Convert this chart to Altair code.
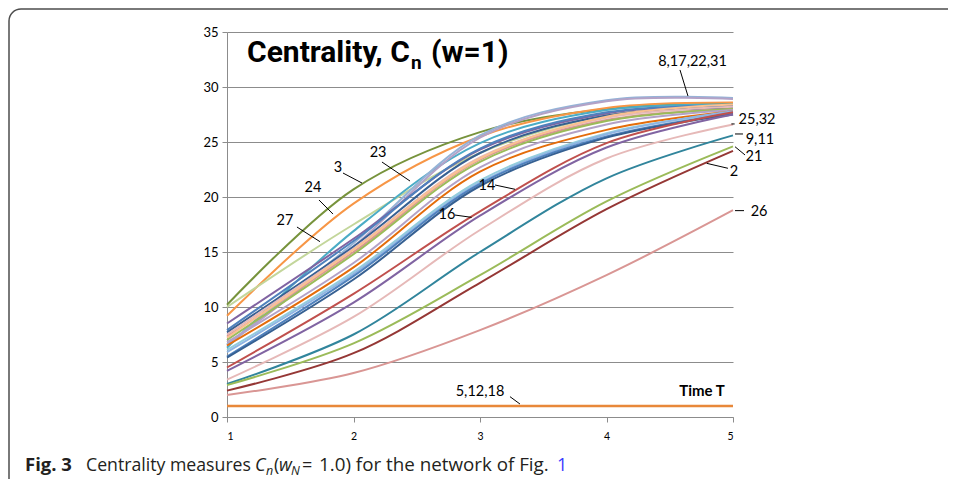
import altair as alt
import pandas as pd

# ---------------- data ----------------
T = [1, 2, 3, 4, 5]
y_ticks = [0, 5, 10, 15, 20, 25, 30, 35]

series_keys = [
    "s01", "s02", "s03", "s04", "s05", "s06", "s07", "s08", "s09", "s10",
    "s11", "s12", "s13", "s14", "s15", "s16", "s17", "s18", "s19", "s20",
    "s21", "s22", "s23", "s24", "s25", "s26",
]
series_colors = [
    "#77933c", "#f79646", "#c3d69b", "#4bacc6", "#95b3d7", "#b3a2c7", "#8064a2",
    "#4f81bd", "#376092", "#e6b9b8", "#d99694", "#fac090", "#9bbb59", "#b3a2c7",
    "#e46c0a", "#93cddd", "#8eb4e3", "#4f81bd", "#366092", "#c0504d", "#8064a2",
    "#e6b9b8", "#31859c", "#9bbb59", "#953735", "#d99694",
]
series_values = [
    [10.2, 20.7, 25.9, 28.0, 28.5],
    [9.2, 19.4, 25.5, 28.1, 28.6],
    [10.0, 17.5, 24.0, 27.4, 28.3],
    [6.3, 16.9, 24.9, 27.9, 28.4],
    [6.6, 15.8, 25.6, 28.8, 29.0],
    [6.5, 15.5, 25.4, 28.7, 28.9],
    [8.5, 16.2, 24.3, 27.6, 28.3],
    [7.9, 16.0, 24.4, 27.7, 28.3],
    [7.7, 15.5, 24.0, 27.4, 28.1],
    [7.5, 15.3, 23.6, 27.2, 28.2],
    [7.3, 15.0, 23.4, 27.0, 28.0],
    [7.2, 15.2, 23.5, 27.3, 28.4],
    [7.0, 14.8, 23.2, 26.9, 28.0],
    [6.8, 14.0, 22.7, 26.6, 27.9],
    [6.5, 13.6, 22.3, 26.1, 27.8],
    [6.1, 13.2, 21.5, 25.8, 27.7],
    [5.9, 13.0, 21.3, 25.7, 27.8],
    [5.5, 12.8, 21.2, 25.5, 27.6],
    [5.4, 12.5, 21.0, 25.4, 27.5],
    [4.5, 11.2, 18.7, 24.9, 27.7],
    [4.2, 10.4, 18.3, 24.5, 27.5],
    [3.4, 9.1, 17.0, 23.5, 26.6],
    [3.0, 7.5, 15.0, 21.7, 25.6],
    [2.9, 6.7, 12.9, 19.6, 24.6],
    [2.4, 5.8, 12.2, 18.9, 24.2],
    [2.0, 4.0, 7.9, 12.9, 18.8],
]
flat_values = [1.0, 1.0, 1.0, 1.0, 1.0]   # nodes 5,12,18
flat_color = "#e8883a"

# annotation labels (data coordinates)
label_texts = ["8,17,22,31", "25,32", "9,11", "21", "2", "26", "14", "16",
               "3", "23", "24", "27", "5,12,18"]
label_x = [4.680, 5.19, 5.213, 5.166, 5.008, 5.206, 3.055, 2.739,
           1.877, 2.194, 1.680, 1.458, 3.0]
label_y = [32.27, 27.0, 25.18, 23.64, 22.27, 18.64, 21.0, 18.36,
           22.64, 24.0, 20.82, 17.82, 2.27]
leader_x1 = [4.581, 4.987, 5.016, 5.016, 4.792, 5.016, 3.119, 2.802,
             1.917, 2.225, 1.727, 1.553, 3.237]
leader_y1 = [31.55, 26.64, 25.73, 24.57, 23.06, 18.76, 21.09, 18.36,
             22.18, 23.18, 19.73, 17.27, 1.85]
leader_x2 = [4.644, 5.013, 5.079, 5.095, 4.960, 5.087, 3.277, 2.934,
             2.067, 2.447, 1.838, 1.735, 3.316]
leader_y2 = [29.18, 26.64, 25.73, 23.82, 22.61, 18.76, 20.70, 18.15,
             21.27, 21.45, 18.45, 15.94, 1.18]

time_label = ["Time T"]
time_x = [4.755]
time_y = [2.36]

# ---------------- build ----------------
rows = []
for k, vals in zip(series_keys, series_values):
    for t, v in zip(T, vals):
        rows.append({"series": k, "T": t, "C": v})
df = pd.DataFrame(rows)
flat_df = pd.DataFrame({"T": T, "C": flat_values})
lab_df = pd.DataFrame({"text": label_texts, "x": label_x, "y": label_y})
lead_df = pd.DataFrame({"x1": leader_x1, "y1": leader_y1,
                        "x2": leader_x2, "y2": leader_y2})
time_df = pd.DataFrame({"text": time_label, "x": time_x, "y": time_y})

FONT = "Lato"
AX = "#8c8c8c"
xscale = alt.Scale(domain=[1, 5], nice=False, zero=False)
yscale = alt.Scale(domain=[0, 35], nice=False)
xaxis = alt.Axis(values=T, format="d", grid=False, domainColor=AX, tickColor=AX,
                 tickSize=5, labelPadding=9, labelFontSize=10.5, labelFont=FONT,
                 labelColor="#000000", title=None)
yaxis = alt.Axis(values=y_ticks, grid=True, gridColor=AX, gridWidth=1,
                 domainColor=AX, tickColor=AX, tickSize=5, labelPadding=4,
                 labelFontSize=13, labelFont=FONT, labelColor="#000000", title=None)

frame = alt.Chart(pd.DataFrame({"a": [0]})).mark_rect(
    fillOpacity=0, stroke="#4d4d4d", strokeWidth=1.5, cornerRadius=12
).encode(x=alt.value(-218), x2=alt.value(780), y=alt.value(-23), y2=alt.value(470))

lines = alt.Chart(df).mark_line(interpolate="catmull-rom", strokeWidth=2).encode(
    x=alt.X("T:Q", scale=xscale, axis=xaxis),
    y=alt.Y("C:Q", scale=yscale, axis=yaxis),
    color=alt.Color("series:N", scale=alt.Scale(domain=series_keys, range=series_colors),
                    legend=None),
)

flat = alt.Chart(flat_df).mark_line(strokeWidth=2.5, color=flat_color).encode(
    x=alt.X("T:Q", scale=xscale, axis=xaxis),
    y=alt.Y("C:Q", scale=yscale, axis=yaxis),
)

leaders = alt.Chart(lead_df).mark_rule(color="#000000", strokeWidth=1).encode(
    x=alt.X("x1:Q", scale=xscale, axis=xaxis),
    y=alt.Y("y1:Q", scale=yscale, axis=yaxis),
    x2="x2:Q", y2="y2:Q",
)

labels = alt.Chart(lab_df).mark_text(
    font=FONT, fontSize=14.5, color="#000000", align="center", baseline="middle"
).encode(
    x=alt.X("x:Q", scale=xscale, axis=xaxis),
    y=alt.Y("y:Q", scale=yscale, axis=yaxis),
    text="text:N",
)

time_t = alt.Chart(time_df).mark_text(
    font=FONT, fontSize=15, fontWeight="bold", color="#000000",
    align="center", baseline="middle"
).encode(
    x=alt.X("x:Q", scale=xscale, axis=xaxis),
    y=alt.Y("y:Q", scale=yscale, axis=yaxis),
    text="text:N",
)


def txt(s, x, y, size, font=FONT, weight="normal", style="normal", color="#000000"):
    return alt.Chart(pd.DataFrame({"a": [0]})).mark_text(
        text=s, font=font, fontSize=size, fontWeight=weight, fontStyle=style,
        color=color, align="left", baseline="alphabetic"
    ).encode(x=alt.value(x), y=alt.value(y))


TF = "Roboto"
title_parts = [
    txt("Centrality, C", 20, 30, 30, font=TF, weight="bold"),
    txt("n", 184, 37, 19, font=TF, weight="bold"),
    txt("(w=1)", 204, 30, 30, font=TF, weight="bold"),
]

CF = "Open Sans"
CC = "#231f20"
CS = 18
caption_parts = [
    txt("Fig. 3", -202, 439, 18.5, font=CF, weight="bold", color=CC),
    txt("Centrality measures", -141, 439, 17.7, font=CF, color=CC),
    txt("C", 28, 439, CS, font=CF, style="italic", color=CC),
    txt("n", 39, 443, 12.5, font=CF, style="italic", color=CC),
    txt("(", 47, 439, CS, font=CF, color=CC),
    txt("w", 52, 439, CS, font=CF, style="italic", color=CC),
    txt("N", 64, 443, 12.5, font=CF, style="italic", color=CC),
    txt("=", 75, 439, CS, font=CF, color=CC),
    txt("1.0) for the network of Fig.", 92, 439, 18.8, font=CF, color=CC),
    txt("1", 330, 439, CS, font=CF, color="#3b3bff"),
]

chart = alt.layer(
    frame, lines, flat, leaders, labels, time_t, *title_parts, *caption_parts
).properties(
    width=506, height=385,
    autosize=alt.AutoSizeParams(type="none"),
    padding={"left": 219, "top": 24, "right": 215, "bottom": 62},
).configure_view(stroke=None)

chart.save("out.html", embed_options={"renderer": "svg", "actions": False})
